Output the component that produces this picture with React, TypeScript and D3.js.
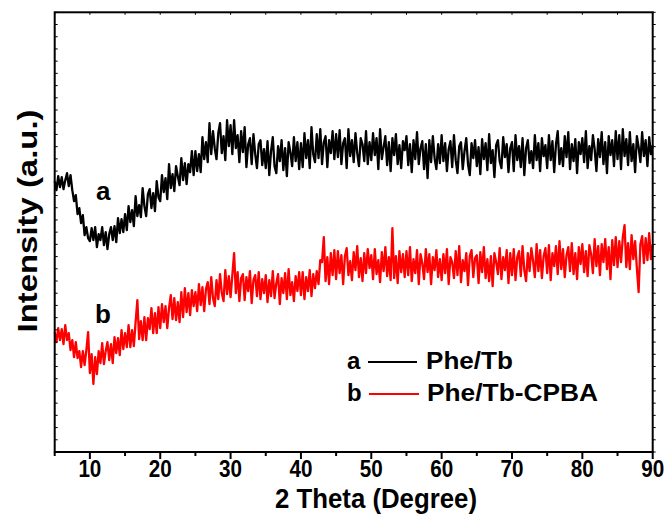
import React from 'react';
import * as d3 from 'd3';

// 2θ sampling: 5° to 90° every 0.25°
const thetaStart = 5;
const thetaStep = 0.25;

// Series a: Phe/Tb (arbitrary intensity units)
const pheTb = [
  271,262,276,265,275,263,272,279,266,277,262,251,257,238,244,229,237,217,225,214,
  211,224,212,225,205,218,212,225,207,220,203,218,225,212,226,210,234,219,233,220,
  238,222,246,230,242,226,256,236,247,235,264,246,236,258,263,244,259,241,271,255,
  251,277,260,274,253,288,264,278,261,286,276,267,294,272,289,268,288,280,301,277,
  301,281,298,280,315,293,310,290,329,298,321,304,293,319,329,299,316,292,332,306,
  327,298,332,304,317,290,321,300,325,285,308,314,288,318,298,284,308,312,287,303,
  284,311,277,301,315,286,279,306,291,312,282,304,276,310,300,286,315,291,310,283,
  309,285,319,294,312,284,325,298,290,318,294,323,288,310,316,285,312,299,321,293,
  318,295,322,288,309,314,284,323,296,312,290,319,299,286,314,308,291,321,288,310,
  292,319,297,314,283,323,293,305,316,287,310,281,314,297,318,288,307,284,311,302,
  316,287,308,280,312,293,320,288,304,311,283,308,274,312,290,316,294,283,308,289,
  317,291,309,281,303,311,285,317,292,279,306,310,283,301,314,288,277,309,294,312,
  286,305,278,313,293,309,282,318,289,302,275,307,312,291,284,315,295,308,280,304,
  310,281,317,292,306,285,314,277,304,312,289,301,284,317,292,309,281,314,296,307,
  284,317,292,311,280,308,321,288,304,286,316,295,320,283,308,291,313,279,310,298,
  314,290,321,284,306,292,317,303,281,313,295,320,288,310,279,316,297,312,286,321,
  293,317,283,323,296,313,287,320,291,308,280,316,305,290,320,296,312,286,315,298,
  307,
];

// Series b: Phe/Tb-CPBA
const pheTbCpba = [
  120,110,124,112,123,108,127,112,119,102,112,95,110,94,101,85,101,87,102,120,
  79,98,68,95,78,101,89,109,88,101,110,92,108,89,115,99,114,97,122,103,
  119,105,127,105,122,106,130,152,113,131,112,135,112,134,123,144,119,139,119,145,
  124,148,130,146,124,144,157,133,154,132,150,130,160,135,164,140,159,137,162,146,
  160,141,168,147,165,141,163,170,148,175,154,146,172,153,178,159,151,182,158,176,
  155,177,199,159,180,151,174,178,152,175,161,181,149,172,177,156,180,153,173,159,
  177,150,172,156,181,154,169,178,148,174,159,179,153,183,157,170,151,176,161,180,
  157,180,153,175,161,182,156,178,164,181,168,192,190,215,171,195,168,199,177,202,
  173,201,179,197,168,196,204,177,191,172,200,182,206,175,194,171,199,179,203,184,
  197,173,203,178,192,170,200,181,205,176,195,172,224,174,196,169,201,180,198,175,
  201,177,205,171,193,179,202,168,198,189,173,203,180,198,168,195,182,202,175,193,
  172,198,179,203,168,195,190,174,201,177,206,170,192,181,199,167,196,202,175,194,
  197,169,200,180,205,174,193,171,196,166,199,190,178,204,173,195,182,202,169,199,
  177,203,172,195,201,176,206,182,171,199,181,204,191,175,208,181,202,174,196,204,
  179,207,172,199,186,206,178,211,183,203,175,197,205,181,209,178,199,173,205,188,
  208,180,201,176,207,198,179,213,186,206,177,208,190,213,183,205,173,212,187,215,
  185,211,190,215,227,185,209,183,217,193,211,184,160,208,216,189,214,192,219,193,
  208,
];

const xMajorTicks = [10, 20, 30, 40, 50, 60, 70, 80, 90];
const xMinorTicks = [5, 15, 25, 35, 45, 55, 65, 75, 85];
const xDomain = [5, 90];
const yDomain = [0, 440];
const yTickCount = 36;

const legendItems = [
  { key: 'a', name: 'Phe/Tb', color: '#000000' },
  { key: 'b', name: 'Phe/Tb-CPBA', color: '#ff0000' },
];

const FONT = '"Liberation Sans", Arial, Helvetica, sans-serif';

export default function App() {
  const left = 54.7, right = 652.7, top = 12.3, bottom = 452;
  const x = d3.scaleLinear().domain(xDomain).range([left, right]);
  const y = d3.scaleLinear().domain(yDomain).range([bottom, top]);

  const toPts = (arr: number[]) => arr.map((v, i) => [thetaStart + i * thetaStep, v] as [number, number]);
  const line = d3.line<[number, number]>().x(d => x(d[0])).y(d => y(d[1]));

  const yTicks = d3.range(0, yTickCount + 1).map(i => yDomain[0] + (i * (yDomain[1] - yDomain[0])) / yTickCount);
  const allMinorTop = [...xMajorTicks, ...xMinorTicks];

  return (
    <svg width={669} height={520} style={{ position: 'absolute', left: 0, top: 0, background: '#fff' }}>
      <rect x={0} y={0} width={669} height={520} fill="#fff" />
      {/* curves */}
      <path d={line(toPts(pheTb)) || ''} fill="none" stroke="#000" strokeWidth={2.3} strokeLinejoin="round" />
      <path d={line(toPts(pheTbCpba)) || ''} fill="none" stroke="#ff0000" strokeWidth={2.3} strokeLinejoin="round" />

      {/* frame */}
      <rect x={left} y={top} width={right - left} height={bottom - top} fill="none" stroke="#000" strokeWidth={2} />

      {/* left & right minor ticks */}
      {yTicks.map((t, i) => (
        <g key={'yt' + i}>
          <line x1={left} x2={left + 3} y1={y(t)} y2={y(t)} stroke="#000" strokeWidth={1} />
          <line x1={right} x2={right + 3} y1={y(t)} y2={y(t)} stroke="#000" strokeWidth={1} />
        </g>
      ))}
      {/* top ticks */}
      {allMinorTop.map(t => (
        <line key={'tt' + t} x1={x(t)} x2={x(t)} y1={top} y2={top + 2.5} stroke="#000" strokeWidth={1} />
      ))}
      {/* bottom ticks */}
      {xMajorTicks.map(t => (
        <line key={'bM' + t} x1={x(t)} x2={x(t)} y1={bottom} y2={bottom + 7} stroke="#000" strokeWidth={2} />
      ))}
      {xMinorTicks.map(t => (
        <line key={'bm' + t} x1={x(t)} x2={x(t)} y1={bottom} y2={bottom + 4} stroke="#000" strokeWidth={2} />
      ))}
      {/* bottom tick labels */}
      {xMajorTicks.map(t => (
        <text key={'bl' + t} x={x(t)} y={477} textAnchor="middle" fontFamily={FONT} fontWeight="bold" fontSize={23}
          textLength={23} lengthAdjust="spacingAndGlyphs">{t}</text>
      ))}
      {/* axis titles */}
      <text x={376} y={508} textAnchor="middle" fontFamily={FONT} fontWeight="bold" fontSize={28}
        textLength={202} lengthAdjust="spacingAndGlyphs">2 Theta (Degree)</text>
      <text transform="translate(37,221) rotate(-90)" textAnchor="middle" fontFamily={FONT} fontWeight="bold" fontSize={28}
        textLength={223} lengthAdjust="spacingAndGlyphs">Intensity (a.u.)</text>

      {/* curve labels */}
      <text x={96} y={200} fontFamily={FONT} fontWeight="bold" fontSize={26}>a</text>
      <text x={95} y={323} fontFamily={FONT} fontWeight="bold" fontSize={26}>b</text>

      {/* legend */}
      {legendItems.map((it, i) => {
        const by = 369 + i * 32;
        return (
          <g key={it.key}>
            <text x={347} y={by} fontFamily={FONT} fontWeight="bold" fontSize={24}>{it.key}</text>
            <line x1={368 + i} x2={417 + 2 * i} y1={by - 7} y2={by - 7} stroke={it.color} strokeWidth={2} />
            <text x={426 + i} y={by} fontFamily={FONT} fontWeight="bold" fontSize={24}
              textLength={i === 0 ? 87 : 171} lengthAdjust="spacingAndGlyphs">{it.name}</text>
          </g>
        );
      })}
    </svg>
  );
}
